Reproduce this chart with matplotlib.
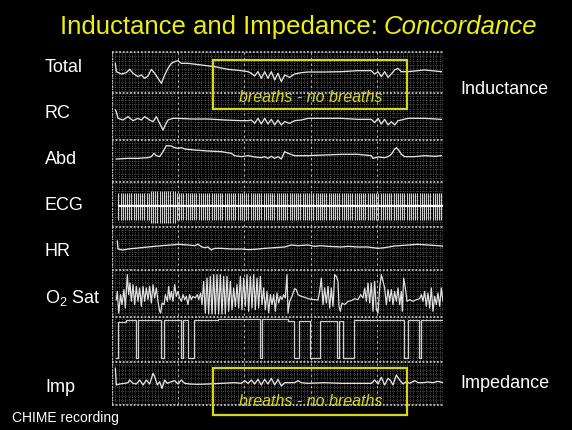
import numpy as np
import matplotlib
matplotlib.use("Agg")
import matplotlib.pyplot as plt
from matplotlib.patches import Rectangle

plt.rcParams['font.family'] = ['Liberation Sans', 'DejaVu Sans']
plt.rcParams['mathtext.fontset'] = 'custom'
plt.rcParams['mathtext.rm'] = 'Liberation Sans'

# ---------------- data (time in chart units, level in chart units) ----------------
channel_labels = ["Total", "RC", "Abd", "ECG", "HR", r"O$_\mathrm{2}$ Sat", "Imp"]

total_t = [22, 25, 40, 55, 65, 75, 90, 100, 110, 120, 130, 140, 150, 160, 170, 180, 190, 200, 210, 220,
           240, 280, 320, 360, 400, 420, 430, 440, 450, 460, 470, 480, 490, 500, 510, 520, 530, 545, 560,
           580, 600, 650, 700, 750, 790, 800, 810, 820, 830, 840, 850, 860, 870, 880, 900, 950, 1000]
total_v = [110, 85, 78, 82, 92, 80, 70, 75, 65, 72, 92, 80, 65, 50, 75, 95, 110, 115, 118, 110,
           110, 105, 100, 92, 88, 85, 80, 72, 85, 65, 85, 65, 85, 60, 80, 55, 75, 68, 78,
           82, 84, 84, 85, 88, 88, 78, 85, 70, 85, 68, 78, 90, 95, 85, 85, 90, 85]

rc_t = [22, 25, 30, 45, 60, 75, 90, 100, 110, 125, 135, 145, 155, 165, 172, 180, 195, 210, 250, 300,
        350, 400, 420, 430, 440, 450, 460, 470, 480, 490, 500, 510, 520, 530, 545, 560, 580, 600, 650,
        700, 750, 790, 800, 810, 820, 830, 840, 850, 860, 870, 880, 900, 950, 1000]
rc_v = [120, 115, 95, 90, 100, 88, 95, 90, 100, 90, 85, 100, 80, 60, 75, 90, 95, 95, 93, 93,
        90, 88, 88, 90, 80, 95, 78, 95, 78, 92, 75, 90, 75, 85, 80, 88, 90, 95, 95,
        95, 92, 92, 82, 95, 78, 92, 75, 85, 75, 88, 90, 95, 95, 92]

abd_t = [25, 60, 90, 120, 130, 138, 145, 155, 165, 175, 190, 200, 210, 220, 230, 260, 300, 340, 370,
         380, 400, 420, 440, 460, 470, 480, 490, 500, 510, 520, 530, 540, 560, 600, 650, 700, 750, 790,
         795, 810, 830, 840, 850, 858, 865, 872, 880, 890, 920, 950, 980, 1000]
abd_v = [78, 80, 80, 82, 85, 95, 88, 85, 100, 118, 117, 112, 110, 112, 108, 105, 102, 100, 95,
         88, 85, 88, 84, 82, 85, 80, 86, 80, 85, 78, 100, 95, 88, 88, 90, 92, 92, 88,
         80, 84, 82, 85, 92, 105, 112, 105, 92, 85, 85, 88, 86, 88]

# ECG: beats drawn at the read R-R spacing, with read spike extents per segment
ecg_first_beat, ecg_last_beat, ecg_rr = 31, 1005, 6.5
ecg_seg_edges = [31, 126, 206, 1006]
ecg_top = [80, 88, 80]
ecg_bottom = [0, -8, 0]
ecg_baseline = 43

hr_t = [28, 30, 45, 60, 80, 100, 130, 160, 190, 210, 240, 260, 270, 280, 290, 300, 310, 320, 340, 370,
        400, 420, 440, 470, 500, 530, 550, 570, 600, 620, 640, 660, 700, 720, 750, 780, 810, 830, 860,
        900, 930, 960, 990, 1010]
hr_v = [102, 78, 75, 78, 80, 82, 85, 88, 90, 92, 90, 88, 92, 85, 82, 84, 75, 80, 80, 78,
        78, 76, 77, 80, 82, 84, 90, 88, 90, 86, 88, 86, 84, 86, 84, 84, 80, 82, 87,
        90, 92, 90, 88, 86]

o2_t = [25, 28, 32, 38, 42, 48, 52, 58, 62, 66, 70, 75, 80, 85, 90, 95, 100, 105, 110, 115, 120, 125,
        130, 135, 140, 145, 150, 155, 158, 162, 168, 172, 178, 182, 186, 190, 195, 200, 205, 210, 215,
        220, 225, 230, 235, 240, 245, 250, 255, 262, 268, 272, 278, 282, 287, 292, 297, 302, 307, 312,
        317, 322, 327, 332, 337, 342, 347, 352, 357, 362, 367, 372, 377, 382, 387, 392, 397, 402, 407,
        412, 417, 422, 427, 432, 437, 442, 447, 452, 457, 462, 467, 472, 477, 482, 487, 492, 497, 502,
        507, 512, 517, 522, 527, 532, 537, 540, 545, 552, 560, 565, 570, 580, 590, 600, 610, 620, 630,
        635, 640, 645, 650, 655, 660, 665, 670, 675, 680, 685, 690, 693, 697, 702, 710, 720, 730, 740,
        750, 758, 765, 770, 775, 780, 785, 790, 795, 800, 805, 810, 815, 820, 825, 830, 835, 840, 845,
        850, 855, 860, 865, 870, 875, 880, 883, 887, 892, 897, 905, 915, 925, 935, 940, 945, 950, 955,
        960, 965, 970, 975, 980, 985, 990, 995, 1000, 1005]
o2_v = [55, 80, 15, 70, 40, 85, 30, 130, 70, 105, 50, 100, 40, 95, 50, 90, 35, 95, 50, 90, 55, 95,
        45, 100, 60, 90, 50, 20, 15, 45, 40, 70, 50, 95, 55, 80, 50, 100, 65, 80, 60,
        50, 70, 55, 65, 40, 70, 55, 65, 60, 70, 55, 75, 40, 110, 15, 120, 12, 125, 12,
        130, 12, 130, 12, 130, 12, 125, 12, 125, 20, 110, 25, 90, 35, 100, 30, 125, 25, 120,
        35, 130, 20, 125, 30, 130, 25, 120, 30, 125, 40, 90, 25, 80, 15, 70, 40, 70, 20,
        75, 45, 65, 55, 70, 60, 130, 15, 50, 65, 88, 85, 70, 65, 62, 58, 56, 55, 54,
        80, 120, 40, 90, 45, 95, 30, 90, 35, 130, 125, 110, 35, 20, 45, 40, 50, 52, 58,
        55, 70, 60, 90, 50, 105, 45, 105, 20, 110, 25, 15, 90, 130, 110, 90, 40, 85, 50,
        85, 40, 80, 50, 90, 40, 80, 20, 120, 90, 50, 55, 50, 55, 58, 70, 50, 80, 35,
        75, 30, 90, 20, 65, 40, 75, 35, 90, 50]

step_t = [25, 30, 55, 85, 91, 160, 167, 220, 226, 241, 258, 330, 456, 462, 540, 557, 572, 606, 637,
          688, 692, 705, 737, 889, 900, 932, 939, 1005]
step_v = [20, 128, 136, 20, 136, 20, 136, 20, 136, 20, 136, 139, 20, 138, 132, 20, 132, 20, 132,
          20, 132, 20, 136, 20, 135, 20, 135, 135]

imp_t = [22, 25, 35, 50, 60, 65, 75, 85, 95, 105, 115, 125, 135, 140, 148, 155, 162, 170, 178, 190,
         200, 210, 220, 230, 245, 270, 300, 340, 380, 400, 410, 420, 430, 440, 450, 460, 470, 480, 490,
         500, 510, 520, 530, 560, 570, 580, 600, 650, 700, 750, 790, 800, 810, 820, 830, 840, 848, 855,
         865, 875, 885, 895, 905, 920, 930, 945, 960, 975, 990, 1005]
imp_v = [125, 75, 78, 80, 82, 90, 80, 78, 90, 75, 90, 78, 110, 100, 75, 85, 65, 90, 80, 85,
         88, 78, 90, 80, 78, 77, 78, 80, 82, 80, 88, 80, 90, 78, 92, 75, 92, 78, 95,
         75, 92, 72, 82, 82, 88, 82, 80, 82, 80, 80, 80, 90, 78, 98, 75, 95, 88, 75,
         105, 90, 78, 85, 80, 88, 82, 82, 84, 82, 86, 82]

# ---------------- layout ----------------
W, H = 572, 430
fig = plt.figure(figsize=(W / 100, H / 100), dpi=100, facecolor='black')

def fx(px):
    return px / W

def fy(py):
    return 1 - py / H

X0, X1 = 112, 443          # recording area, pixels
T0, T1 = 12, 1005          # time range in chart units
UNITS_PER_SEC = 19.86
bands = [52, 93, 140, 182, 227, 270, 317, 362, 405]

# background grid
bg = fig.add_axes([fx(X0), fy(407), (X1 - X0) / W, (407 - 50) / H])
bg.set_xlim(T0, T1)
bg.set_ylim(407, 50)
bg.set_facecolor('black')
bg.set_axis_off()
minor_x = np.arange(T0, T1 + 0.1, UNITS_PER_SEC / 2)
bg.vlines(minor_x, bands[0], bands[-1], colors='#6e6e6e', lw=0.6, linestyles=(0, (1, 1.6)))
bg.hlines(np.arange(bands[0], bands[-1], 4.35), T0, T1, colors='#5e5e5e', lw=0.6,
          linestyles=(0, (1, 1.6)))
major_x = np.arange(T0, T1 + 1, UNITS_PER_SEC * 10)
bg.vlines(major_x, bands[0], bands[-1], colors='#b0b0b0', lw=0.8, linestyles=(0, (2, 3)))
bg.hlines(bands, T0, T1, colors='#c0c0c0', lw=1.3, linestyles=(0, (1, 1)))
bg.vlines([T0, T1], bands[0], bands[-1], colors='#c0c0c0', lw=1.0, linestyles=(0, (1, 1)))

def band_axes(i, ylim):
    top, bot = bands[i], bands[i + 1]
    ax = fig.add_axes([fx(X0), fy(bot), (X1 - X0) / W, (bot - top) / H])
    ax.set_xlim(T0, T1)
    ax.set_ylim(*ylim)
    ax.set_axis_off()
    ax.patch.set_alpha(0)
    return ax

trace = dict(color='#e4e4e4', lw=0.95)

ax = band_axes(0, (21, 144))
ax.plot(total_t, total_v, **trace)
ax = band_axes(1, (30, 171))
ax.plot(rc_t, rc_v, **trace)
ax = band_axes(2, (9, 135))
ax.plot(abd_t, abd_v, **trace)

ax = band_axes(3, (-21, 114))
beats = np.arange(ecg_first_beat, ecg_last_beat, ecg_rr)
seg = np.searchsorted(ecg_seg_edges, beats, side='right') - 1
tops = np.array(ecg_top)[seg]
bots = np.array(ecg_bottom)[seg]
ax.vlines(beats, bots, tops, colors='#cfcfcf', lw=0.8)
ax.hlines(ecg_baseline, ecg_first_beat, ecg_last_beat, colors='white', lw=1.6)

ax = band_axes(4, (15, 144))
ax.plot(hr_t, hr_v, **trace)
ax = band_axes(5, (3, 144))
ax.plot(o2_t, o2_v, color='#e0e0e0', lw=0.9)
ax = band_axes(6, (9, 144))
ax.plot(step_t, step_v, color='#d0d0d0', lw=0.9, drawstyle='steps-post')
ax = band_axes(7, (15, 144))
ax.plot(imp_t, imp_v, **trace)

# ---------------- texts ----------------
yellow = '#eeee10'
box_yellow = '#d6d61c'
fig.text(fx(378), fy(27), "Inductance and Impedance:", color=yellow, fontsize=18.5,
         ha='right', va='center')
fig.text(fx(384), fy(27), "Concordance", color=yellow, fontsize=18.5, style='italic',
         ha='left', va='center')

label_y = [67, 114, 159, 206, 251, 298, 388]
for lab, yy in zip(channel_labels, label_y):
    fig.text(fx(45), fy(yy), lab, color='white', fontsize=13, ha='left', va='center')

fig.text(fx(460), fy(90), "Inductance", color='white', fontsize=13, ha='left', va='center')
fig.text(fx(460), fy(384), "Impedance", color='white', fontsize=13, ha='left', va='center')
fig.text(fx(12), fy(418), "CHIME recording", color='white', fontsize=10, ha='left', va='center')

for (x0, y0, x1, y1, ty) in [(213, 60, 407, 109, 97), (213, 368, 407, 415, 402)]:
    fig.add_artist(Rectangle((fx(x0), fy(y1)), (x1 - x0) / W, (y1 - y0) / H,
                             transform=fig.transFigure, fill=False, ec=box_yellow, lw=1.6))
    fig.text(fx(311), fy(ty), "breaths - no breaths", color=box_yellow, fontsize=11.5,
             style='italic', ha='center', va='center')

fig.savefig("out.png", dpi=100, facecolor='black')
